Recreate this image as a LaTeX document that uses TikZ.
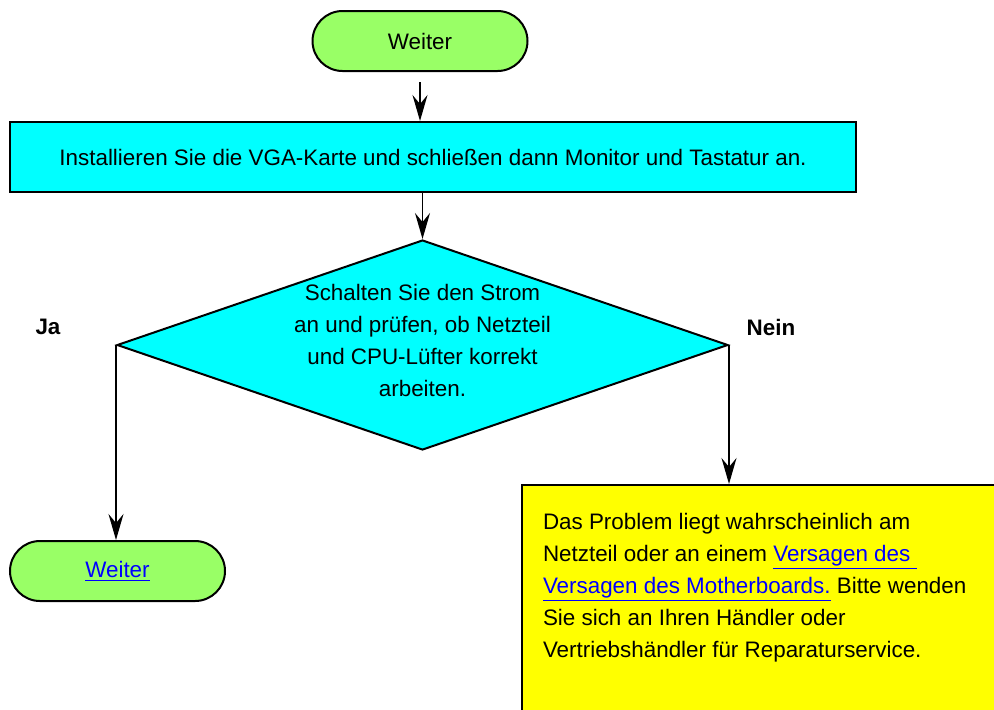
\documentclass[tikz,border=0pt]{standalone}
\usepackage{fontspec}
\setmainfont{Liberation Sans}
\usepackage{xcolor}
\usetikzlibrary{arrows.meta,positioning,shapes.geometric,calc}
\definecolor{termgreen}{HTML}{99FF66}
\definecolor{stepcyan}{HTML}{00FFFF}
\definecolor{warnyellow}{HTML}{FFFF00}
\definecolor{linkblue}{HTML}{0000FF}
\tikzset{
  flow/.style={-{Stealth[length=13pt,width=7.5pt,inset=4.5pt]}, line width=0.9pt, draw=black},
  box/.style={draw=black, line width=1pt, align=center,
              font=\fontsize{11.2}{16}\selectfont},
  termbox/.style={box, fill=termgreen, rounded corners=15pt,
                  minimum width=107.5pt, minimum height=30pt},
  stepbox/.style={box, fill=stepcyan, minimum width=423pt, minimum height=35pt},
  decisionbox/.style={box, diamond, fill=stepcyan, aspect=2.9, inner sep=0pt,
                      minimum width=305.5pt, minimum height=105pt},
  failbox/.style={box, fill=warnyellow, minimum width=250pt, minimum height=125pt},
  plaintext/.style={box, draw=none, inner sep=0pt},
  answer/.style={font=\fontsize{11.2}{16}\selectfont\bfseries}
}
\newcommand{\weblink}[1]{\textcolor{linkblue}{\underline{#1}}}

\begin{document}
\begin{tikzpicture}[x=0.5pt, y=-0.5pt]
  \useasboundingbox (0,0) rectangle (994,709);
  \clip (0,0) rectangle (994,709);

  \node[termbox] (start) at (420,41) {Weiter};
  \node[stepbox] (install) at (433,157) {Installieren Sie die VGA-Karte und schließen dann Monitor und Tastatur an.};
  \node[decisionbox] (check) at (422.5,345) {};
  \node[plaintext] (checktext) at ([yshift=2.5pt]check.center)
    {Schalten Sie den Strom\\an und prüfen, ob Netzteil\\und CPU-Lüfter korrekt\\arbeiten.};
  \node[termbox] (done) at (117.5,571) {\weblink{Weiter}};

  \node[failbox, anchor=north west] (fail) at (521,484) {};
  \node[plaintext, align=left, anchor=north west] (failtext)
    at ([shift={(21,28)}]fail.north west)
    {Das Problem liegt wahrscheinlich am\\
     Netzteil oder an einem \weblink{Versagen des\ }\\
     \weblink{Versagen des Motherboards.} Bitte wenden\\
     Sie sich an Ihren Händler oder\\
     Vertriebshändler für Reparaturservice.};

  \node[answer] (yes) at ([shift={(-68,-18)}]check.west) {Ja};
  \node[answer] (no) at ([shift={(42,-18)}]check.east) {Nein};

  \draw[flow, shorten <=5pt] (start.south) -- (start.south |- install.north);
  \draw[flow] (install.south -| check.north) -- (check.north);
  \draw[flow] (check.west) -- (check.west |- done.north);
  \draw[flow] (check.east) -- (check.east |- fail.north);
\end{tikzpicture}
\end{document}
